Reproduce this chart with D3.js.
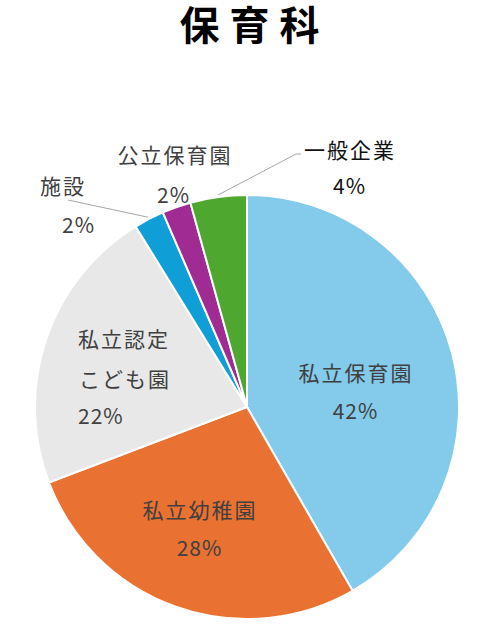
<!DOCTYPE html>
<html>
<head>
<meta charset="utf-8">
<script src="https://cdn.jsdelivr.net/npm/d3@7"></script>
<style>
  body { margin: 0; background: #fff; }
  text { font-family: "Noto Sans CJK JP", "Noto Sans", sans-serif; }
</style>
</head>
<body>
<div id="chart"></div>
<script>
// chart data
var title = "保育科";
var categories = ["私立保育園", "私立幼稚園", "私立認定こども園", "施設", "公立保育園", "一般企業"];
var values = [41.7, 27.5, 22.0, 2.3, 2.2, 4.3];
var colors = ["#83CAEB", "#E97132", "#E8E8E8", "#0F9ED5", "#A02B93", "#4EA72E"];

// svg size
var svgWidth = 500;
var svgHeight = 625;
var cx = 247, cy = 407, radius = 212;

// label layout, offsets from the pie centre (line text, dx, dy of ink centre)
var labelLayout = [
  { lines: [["私立保育園", 108, -34], ["%", 108, 4]], anchor: "middle", fill: "#404040" },
  { lines: [["私立幼稚園", -48, 103], ["%", -48, 141]], anchor: "middle", fill: "#404040" },
  { lines: [["私立認定", -169, -68], ["こども園", -168, -28], ["%", -169, 9]], anchor: "start", fill: "#404040" },
  { lines: [["施設", -185, -221], ["%", -169, -182]], anchor: "middle", fill: "#404040", leader: [[-179, -207]] },
  { lines: [["公立保育園", -73, -252], ["%", -74, -212]], anchor: "middle", fill: "#404040" },
  { lines: [["一般企業", 102, -257], ["%", 102, -221]], anchor: "middle", fill: "#111111", leader: [[49, -253], [54, -253]] }
];

var svg = d3.select("#chart")
  .append("svg")
  .attr("width", svgWidth)
  .attr("height", svgHeight);

// title
svg.append("text")
  .attr("x", 254.5)
  .attr("y", 40)
  .attr("text-anchor", "middle")
  .style("font-size", "40px")
  .style("font-weight", "bold")
  .style("letter-spacing", "10px")
  .style("fill", "#000")
  .text(title);

var chartGroup = svg.append("g")
  .attr("transform", `translate(${cx}, ${cy})`);

var pie = d3.pie()
  .sort(null)
  .value(d => d);

var arcs = pie(values);

var arc = d3.arc()
  .innerRadius(0)
  .outerRadius(radius);

// slices
chartGroup.selectAll("path.slice")
  .data(arcs)
  .enter()
  .append("path")
  .attr("class", "slice")
  .attr("d", arc)
  .attr("fill", (d, i) => colors[i])
  .attr("stroke", "#fff")
  .attr("stroke-width", 2);

// leader lines
arcs.forEach(function (d, i) {
  var lay = labelLayout[i];
  if (!lay.leader) return;
  var mid = (d.startAngle + d.endAngle) / 2;
  var start = [Math.sin(mid) * (radius + 2), -Math.cos(mid) * (radius + 2)];
  chartGroup.append("path")
    .attr("d", d3.line()([start].concat(lay.leader)))
    .attr("fill", "none")
    .attr("stroke", "#a6a6a6")
    .attr("stroke-width", 1);
});

// labels
arcs.forEach(function (d, i) {
  var lay = labelLayout[i];
  var pct = Math.round(values[i]) + "%";
  lay.lines.forEach(function (ln) {
    var isPct = ln[0] === "%";
    var sp = isPct ? 1 : 2;
    var shift = lay.anchor === "middle" ? sp / 2 : 0;
    chartGroup.append("text")
      .attr("x", ln[1] + shift)
      .attr("y", ln[2] + 7.8)
      .attr("text-anchor", lay.anchor)
      .style("font-size", "21px")
      .style("letter-spacing", sp + "px")
      .style("fill", lay.fill)
      .text(isPct ? pct : ln[0]);
  });
});
</script>
</body>
</html>
